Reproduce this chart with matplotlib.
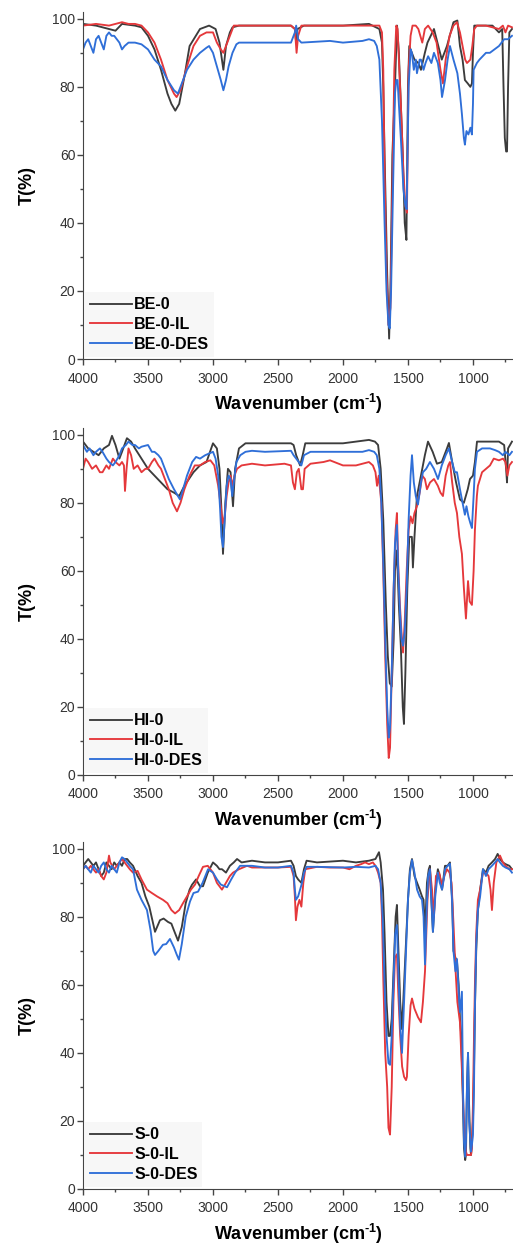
import matplotlib
matplotlib.use("Agg")
from matplotlib import pyplot as plt
from matplotlib.ticker import MultipleLocator
import numpy as np

plt.rcParams['font.family'] = ['Liberation Sans', 'DejaVu Sans']
plt.rcParams['mathtext.fontset'] = 'custom'
plt.rcParams['mathtext.rm'] = 'Liberation Sans:bold'

# ---- spectra: (wavenumber cm-1, T %) ----
be0 = [(4000,98.5),(3900,98),(3800,97),(3750,96.5),(3700,98.5),(3600,98),(3550,97.5),(3500,95),(3450,91),(3400,85),
       (3350,78),(3320,75),(3290,73),(3260,75),(3220,83),(3180,92),(3100,97),(3030,98),(2980,97),(2950,93),
       (2920,85),(2900,92),(2870,96),(2850,97.5),(2800,98),(2600,98),(2400,98),(2370,97),(2360,93),(2350,97),
       (2300,98),(2000,98),(1800,98.5),(1720,97),(1700,93),(1690,80),(1680,60),(1660,25),(1645,6),(1635,20),
       (1620,60),(1600,80),(1590,92),(1584,98),(1570,90),(1560,80),(1540,60),(1525,40),(1512,35),(1500,80),
       (1490,92),(1470,90),(1450,88),(1420,87),(1400,85),(1370,90),(1350,93),(1300,97),(1280,94),(1240,88),
       (1220,90),(1200,92),(1150,99),(1120,99.5),(1100,92),(1080,88),(1062,82),(1040,81),(1020,80),(1008,81),
       (1000,90),(990,98),(900,98),(850,98),(800,96),(775,97),(765,80),(755,65),(745,61),(738,61),
       (730,80),(720,96),(700,97)]
be0_il = [(4000,98),(3900,98.5),(3800,98),(3700,99),(3650,98.5),(3600,98.5),(3550,98),(3500,96),(3450,93),(3400,88),
          (3350,82),(3300,78),(3280,77),(3250,79),(3200,86),(3150,92),(3100,95),(3050,96),(3000,96),(2970,93),
          (2940,91),(2920,90),(2890,93),(2860,96),(2840,98),(2800,98),(2600,98),(2400,98),(2370,97),(2357,90),
          (2345,95),(2320,98),(2000,98),(1800,98),(1720,98),(1700,96),(1690,85),(1680,55),(1665,25),(1650,10),
          (1635,15),(1620,50),(1605,85),(1590,98),(1580,97),(1570,88),(1555,75),(1535,55),(1520,45),(1508,43),
          (1495,85),(1480,95),(1465,98),(1440,98),(1420,97),(1390,93),(1370,97),(1345,98),(1310,96),(1280,93),
          (1250,85),(1231,81),(1210,88),(1180,95),(1150,98),(1123,99),(1100,96),(1080,92),(1060,88),(1046,87),
          (1020,88),(1005,92),(990,97),(970,98),(900,98),(850,97.5),(800,97),(770,98),(750,96),(730,98),
          (700,97.5)]
be0_des = [(4000,91),(3980,93),(3960,94),(3940,92),(3920,90),(3900,94),(3880,95),(3860,93),(3840,91),(3820,95),
           (3800,96),(3780,95),(3760,95),(3740,94),(3720,93),(3700,91),(3680,92),(3650,93),(3600,93),(3550,92.5),
           (3500,91),(3450,88),(3400,86),(3350,82),(3300,79),(3270,78),(3240,81),(3200,85),(3150,88),(3100,90),
           (3050,91.5),(3030,92),(3000,90),(2970,86),(2940,82),(2920,79),(2900,82),(2880,86),(2850,90),(2820,92.5),
           (2800,93),(2600,93),(2400,93),(2370,96),(2360,98),(2345,94),(2320,93),(2100,93.5),(2000,93),(1850,93.5),
           (1800,94),(1760,93.5),(1740,92),(1720,88),(1700,70),(1680,40),(1665,20),(1650,10),(1640,9),(1630,20),
           (1615,50),(1600,78),(1590,82),(1580,82),(1570,75),(1555,65),(1535,50),(1520,45),(1510,44),(1495,80),
           (1480,91),(1470,90),(1455,85),(1440,88),(1431,84),(1410,88),(1400,88),(1380,85),(1365,87),(1345,89),
           (1320,87),(1300,90),(1270,87),(1250,82),(1238,77),(1215,82),(1195,88),(1177,92),(1150,88),(1120,84),
           (1100,78),(1085,72),(1070,65),(1062,63),(1050,67),(1035,66),(1020,68),(1008,66),(1000,75),(995,85),
           (970,87),(950,88),(900,90),(870,90),(800,92),(760,94),(730,94),(700,95)]

hi0 = [(4000,98),(3960,96),(3920,95),(3880,94),(3840,96),(3800,97),(3777,99.7),(3750,97),(3720,93),(3700,95),
       (3662,99),(3630,98),(3600,96),(3550,93),(3500,90),(3450,88),(3400,86),(3350,84),(3300,83),(3260,82),
       (3220,85),(3150,89),(3100,91),(3050,92),(3000,97.5),(2970,96),(2950,90),(2935,78),(2923,65),(2905,80),
       (2885,90),(2865,89),(2846,79),(2830,90),(2800,96),(2750,97.5),(2700,97.5),(2400,97.5),(2380,97),(2360,94),
       (2330,91),(2310,94),(2290,97.5),(2200,97.5),(2000,97.5),(1800,98.5),(1754,98),(1730,97),(1710,90),(1690,75),
       (1670,50),(1655,35),(1640,27),(1625,26),(1610,40),(1600,60),(1585,66),(1570,50),(1555,38),(1540,20),
       (1531,15),(1520,30),(1505,55),(1490,70),(1470,70),(1462,61),(1450,70),(1431,82),(1400,88),(1370,94),
       (1346,98),(1310,95),(1277,91.5),(1240,92),(1200,96),(1185,97.6),(1160,92),(1130,86),(1100,81),(1070,80),
       (1040,84),(1023,87),(1000,88),(985,92),(969,98),(900,98),(850,98),(800,98),(760,97),(745,90),
       (738,86),(730,96),(700,98)]
hi0_il = [(4000,90),(3980,93),(3960,92),(3930,90),(3900,91),(3870,89),(3850,89),(3820,91),(3800,90),(3770,93),
          (3750,92),(3720,91),(3700,92),(3685,91),(3677,83.5),(3665,90),(3650,96),(3630,94),(3610,90),(3580,91),
          (3550,89),(3520,90),(3500,90),(3470,92),(3450,93),(3420,91),(3400,90),(3370,87),(3340,84),(3310,80),
          (3277,77.5),(3250,80),(3220,84),(3180,88),(3140,91),(3100,91),(3060,92),(3020,92.5),(2990,91),(2960,85),
          (2940,79),(2925,74),(2910,76),(2895,82),(2880,86),(2865,88),(2850,85),(2835,88),(2815,90),(2780,91),
          (2700,91.5),(2600,91),(2450,91.5),(2400,91),(2385,86),(2370,84),(2355,89),(2340,90),(2320,84),(2308,84),
          (2295,90),(2250,91.5),(2150,92),(2100,92.5),(2000,91),(1900,91),(1850,91.5),(1800,92),(1770,91),(1750,89),
          (1738,85),(1725,88),(1705,80),(1690,60),(1675,35),(1660,15),(1648,5),(1638,8),(1625,30),(1610,55),
          (1595,72),(1585,77),(1575,62),(1562,50),(1550,42),(1538,36),(1525,45),(1510,60),(1495,72),(1480,76),
          (1465,74),(1450,77),(1431,79),(1410,83),(1390,88),(1370,87),(1354,84),(1330,86),(1300,87),(1270,85),
          (1250,83),(1231,82),(1210,88),(1190,91),(1177,92),(1160,86),(1140,80),(1123,77),(1105,70),(1085,65),
          (1070,55),(1054,46),(1045,52),(1038,57),(1025,51),(1008,50),(995,60),(985,72),(970,82),(962,85),
          (930,89),(900,90),(869,91),(840,93),(800,92.5),(769,93),(750,92),(735,88),(720,91),(700,92)]
hi0_des = [(4000,97),(3970,95),(3950,96),(3920,94),(3900,95),(3870,96),(3850,95),(3820,93),(3800,92),(3770,91),
           (3750,92),(3720,94),(3700,96),(3670,97),(3650,98),(3620,97),(3600,97),(3570,96),(3550,96.5),(3500,97),
           (3470,95),(3450,95),(3420,94),(3400,93),(3370,90),(3340,87),(3300,84),(3270,82),(3254,81),(3230,84),
           (3200,88),(3160,92),(3130,93.5),(3100,93),(3060,94),(3030,94.5),(3000,95),(2980,93),(2960,88),(2945,78),
           (2935,70),(2923,67),(2910,75),(2895,85),(2880,88),(2865,87),(2852,82),(2840,86),(2820,92),(2790,94),
           (2750,95),(2700,95.3),(2600,95),(2400,95.3),(2380,94),(2360,93),(2340,92),(2320,91),(2300,94),(2250,95),
           (2000,95),(1850,95),(1800,95.5),(1760,95),(1740,94),(1720,90),(1705,80),(1690,62),(1675,40),(1660,20),
           (1648,11),(1638,14),(1625,30),(1610,55),(1600,68),(1585,73.5),(1575,60),(1562,48),(1550,40),(1538,38),
           (1525,42),(1510,55),(1495,75),(1480,88),(1469,94),(1455,86),(1440,82),(1423,79.5),(1400,86),(1385,89),
           (1360,90),(1331,92),(1300,90),(1269,87),(1240,91),(1210,94),(1185,96),(1160,92),(1140,89),(1123,89),
           (1100,84),(1080,80),(1062,76.5),(1050,79),(1035,76),(1020,74),(1008,72.6),(995,82),(985,90),(969,95),
           (930,96),(900,96),(869,96),(830,95.5),(800,95),(770,94),(750,95),(720,94),(700,95)]

s0 = [(4000,95),(3980,96),(3960,97),(3940,96),(3920,95),(3900,96),(3880,94),(3860,92),(3840,93),(3820,96),
      (3800,95),(3780,94),(3760,96),(3740,95),(3720,96),(3700,95),(3680,97),(3660,97),(3640,96),(3615,95),
      (3580,92),(3550,90),(3520,86),(3490,83),(3460,78),(3446,75.6),(3430,77),(3408,79),(3380,79.5),(3346,78.5),
      (3320,78),(3300,76),(3269,73),(3240,77),(3210,84),(3180,88),(3162,89.4),(3130,91),(3100,89),(3077,89),
      (3040,93),(3000,96),(2970,95),(2950,94),(2931,94),(2900,93),(2870,95),(2840,96),(2815,97),(2780,96),
      (2700,96.5),(2600,96),(2500,96),(2400,96.5),(2380,95),(2362,92),(2345,91),(2320,90),(2300,94),(2280,96.5),
      (2200,96),(2000,96.5),(1900,96),(1800,96.5),(1750,97),(1723,99),(1710,96),(1692,88),(1680,75),(1665,55),
      (1650,45),(1638,45),(1625,50),(1610,65),(1595,80),(1585,83.5),(1575,72),(1560,55),(1546,47),(1530,60),
      (1515,72),(1500,85),(1485,94),(1469,97),(1450,92),(1430,90),(1410,88),(1392,86),(1380,85),(1369,75),
      (1354,90),(1340,94),(1331,95),(1320,85),(1308,75.6),(1290,88),(1270,94),(1255,92),(1238,88),(1225,92),
      (1215,95),(1195,95),(1177,96),(1160,85),(1150,70),(1135,68),(1123,67),(1110,60),(1100,50),(1090,45),
      (1080,30),(1069,12),(1060,8.5),(1054,10),(1046,30),(1038,40),(1030,25),(1020,12),(1015,10),(1008,14),
      (1000,20),(992,35),(985,53),(975,70),(962,82),(945,88),(923,94),(900,93),(880,95),(854,96),
      (830,97),(810,98.5),(792,97),(770,96),(750,95.5),(720,95),(700,94)]
s0_il = [(4000,94),(3980,95),(3960,94),(3940,95),(3920,94),(3900,93),(3880,94),(3860,92),(3840,91),(3820,93),
         (3800,98),(3790,96),(3760,94),(3740,95),(3720,96),(3700,97),(3680,96),(3660,95),(3640,94),(3615,93),
         (3580,93.5),(3550,91),(3508,88),(3470,87),(3430,86),(3385,85),(3350,84),(3320,82),(3292,81),(3260,82),
         (3231,84),(3200,86),(3170,88),(3138,89.5),(3110,92),(3077,94.7),(3040,95),(3000,93),(2970,90),(2950,89),
         (2931,88),(2900,90),(2870,92),(2846,93),(2800,94),(2738,95),(2700,94.5),(2600,94.5),(2500,94.5),(2400,94.7),
         (2380,92),(2370,86),(2362,79),(2350,83),(2335,85),(2320,83),(2305,90),(2290,94),(2200,94.7),(2100,94.5),
         (2000,94.5),(1950,94),(1900,95),(1860,95.5),(1830,96),(1800,95.5),(1770,96),(1750,95),(1730,93),(1710,90),
         (1700,80),(1690,62),(1675,40),(1660,30),(1650,18),(1638,16),(1625,30),(1612,55),(1600,68),(1585,69),
         (1575,58),(1560,45),(1545,36),(1530,33),(1515,32),(1508,33),(1495,45),(1480,54),(1469,56),(1450,53),
         (1423,50.5),(1400,49),(1385,55),(1369,64),(1350,85),(1331,94),(1315,88),(1300,80),(1285,92),(1260,93),
         (1238,89),(1220,92),(1200,94),(1180,93),(1165,90),(1150,78),(1135,65),(1120,55),(1100,49),(1085,35),
         (1069,20),(1054,11),(1046,10),(1030,10),(1015,10),(1008,12),(1000,25),(992,45),(985,60),(975,75),
         (962,85),(945,88),(923,93),(900,93),(880,92),(865,88),(854,82),(840,90),(820,96),(792,98),
         (770,96),(750,95),(720,94),(700,94)]
s0_des = [(4000,94),(3980,95),(3960,94),(3940,93),(3920,95),(3900,94),(3880,93),(3860,95),(3840,96),(3820,94),
          (3800,93),(3780,95),(3760,94),(3740,93),(3720,96),(3700,97.5),(3680,97),(3660,96),(3640,95),(3615,94),
          (3585,88),(3550,85),(3508,82),(3480,76),(3460,70),(3446,68.8),(3420,70),(3385,71.8),(3360,72),(3331,73.5),
          (3300,71),(3280,69),(3262,67.4),(3240,72),(3210,80),(3177,84.5),(3150,87),(3115,87.4),(3080,90),(3038,94),
          (3000,93),(2969,91),(2940,89.5),(2910,89),(2892,88.7),(2860,91),(2830,93),(2792,95),(2700,95),(2600,94.5),
          (2500,94.5),(2400,95),(2380,93),(2370,88),(2362,85),(2345,86),(2330,88),(2315,90),(2300,93),(2280,94.7),
          (2200,94.7),(2000,94.5),(1900,94.7),(1800,94.5),(1750,95),(1730,94),(1710,90),(1695,80),(1680,60),(1665,45),
          (1650,37),(1638,36.5),(1625,45),(1612,60),(1598,75),(1585,77.6),(1575,65),(1560,48),(1546,40),(1530,55),
          (1515,70),(1500,85),(1485,93),(1469,96.7),(1450,93),(1430,88),(1410,86),(1392,85),(1380,80),(1369,66),
          (1358,80),(1345,92),(1331,94),(1320,85),(1308,75.6),(1290,86),(1270,93),(1255,90),(1238,88),(1225,91),
          (1215,94),(1195,95),(1177,95.6),(1160,84),(1150,70),(1135,64),(1123,67.6),(1110,58),(1100,52),(1085,58),
          (1077,30),(1069,13.8),(1060,9.5),(1054,14),(1046,30),(1038,40),(1030,20),(1020,14),(1015,11),(1008,13),
          (1000,16),(992,30),(985,53),(975,72),(962,82),(945,86),(923,94),(900,92),(880,94),(854,95),
          (830,96),(810,97),(792,96),(770,95),(750,94.5),(720,94),(700,93)]

panels = [
    (["BE-0", "BE-0-IL", "BE-0-DES"], [be0, be0_il, be0_des]),
    (["HI-0", "HI-0-IL", "HI-0-DES"], [hi0, hi0_il, hi0_des]),
    (["S-0", "S-0-IL", "S-0-DES"], [s0, s0_il, s0_des]),
]
colors = ["#3c3c3c", "#e5383b", "#2f6fd8"]

W, H = 513, 1249
fig = plt.figure(figsize=(W / 100, H / 100), dpi=100)

# bottom (T=0) pixel row of each panel, from the top of the image
bottoms = [359, 775, 1189]
ax_h = 347  # px covering 0..102

for (names, data), yb in zip(panels, bottoms):
    ax = fig.add_axes([83 / W, 1 - yb / H, (W - 83) / W, ax_h / H])
    for name, d, c in zip(names, data, colors):
        arr = np.array(d)
        ax.plot(arr[:, 0], arr[:, 1], color=c, lw=1.35, label=name)

    ax.set_xlim(4000, 692)
    ax.set_ylim(0, 102)
    ax.xaxis.set_major_locator(MultipleLocator(500))
    ax.xaxis.set_minor_locator(MultipleLocator(250))
    ax.yaxis.set_major_locator(MultipleLocator(20))
    ax.yaxis.set_minor_locator(MultipleLocator(10))

    ax.spines['right'].set_color('none')
    ax.spines['top'].set_color('none')
    ax.spines['left'].set_color('#444444')
    ax.spines['bottom'].set_color('#444444')
    ax.tick_params(which='major', length=4, width=1, color='#444444', labelsize=10,
                   labelcolor='#333333', direction='out')
    ax.tick_params(which='minor', length=2.5, width=1, color='#444444', direction='out')
    ax.tick_params(axis='x', pad=5)
    ax.tick_params(axis='y', pad=1.5)

    ax.set_xlabel(r"Wavenumber (cm$^{\text{-1}}$)", fontsize=13, fontweight='bold')
    ax.xaxis.set_label_coords(0.5, -0.095)
    ax.set_ylabel("T(%)", fontsize=13, fontweight='bold')
    ax.yaxis.set_label_coords(-0.11, 0.5)

    ax.legend(loc='lower left', bbox_to_anchor=(0.0, 0.0), frameon=True, fancybox=False,
              facecolor='#f7f7f7', edgecolor='none', framealpha=1,
              prop={'weight': 'bold', 'size': 11.5}, handlelength=2.6, handletextpad=0.15,
              labelspacing=0.3, borderpad=0.3, borderaxespad=0.15)

fig.savefig("out.png", dpi=100)
